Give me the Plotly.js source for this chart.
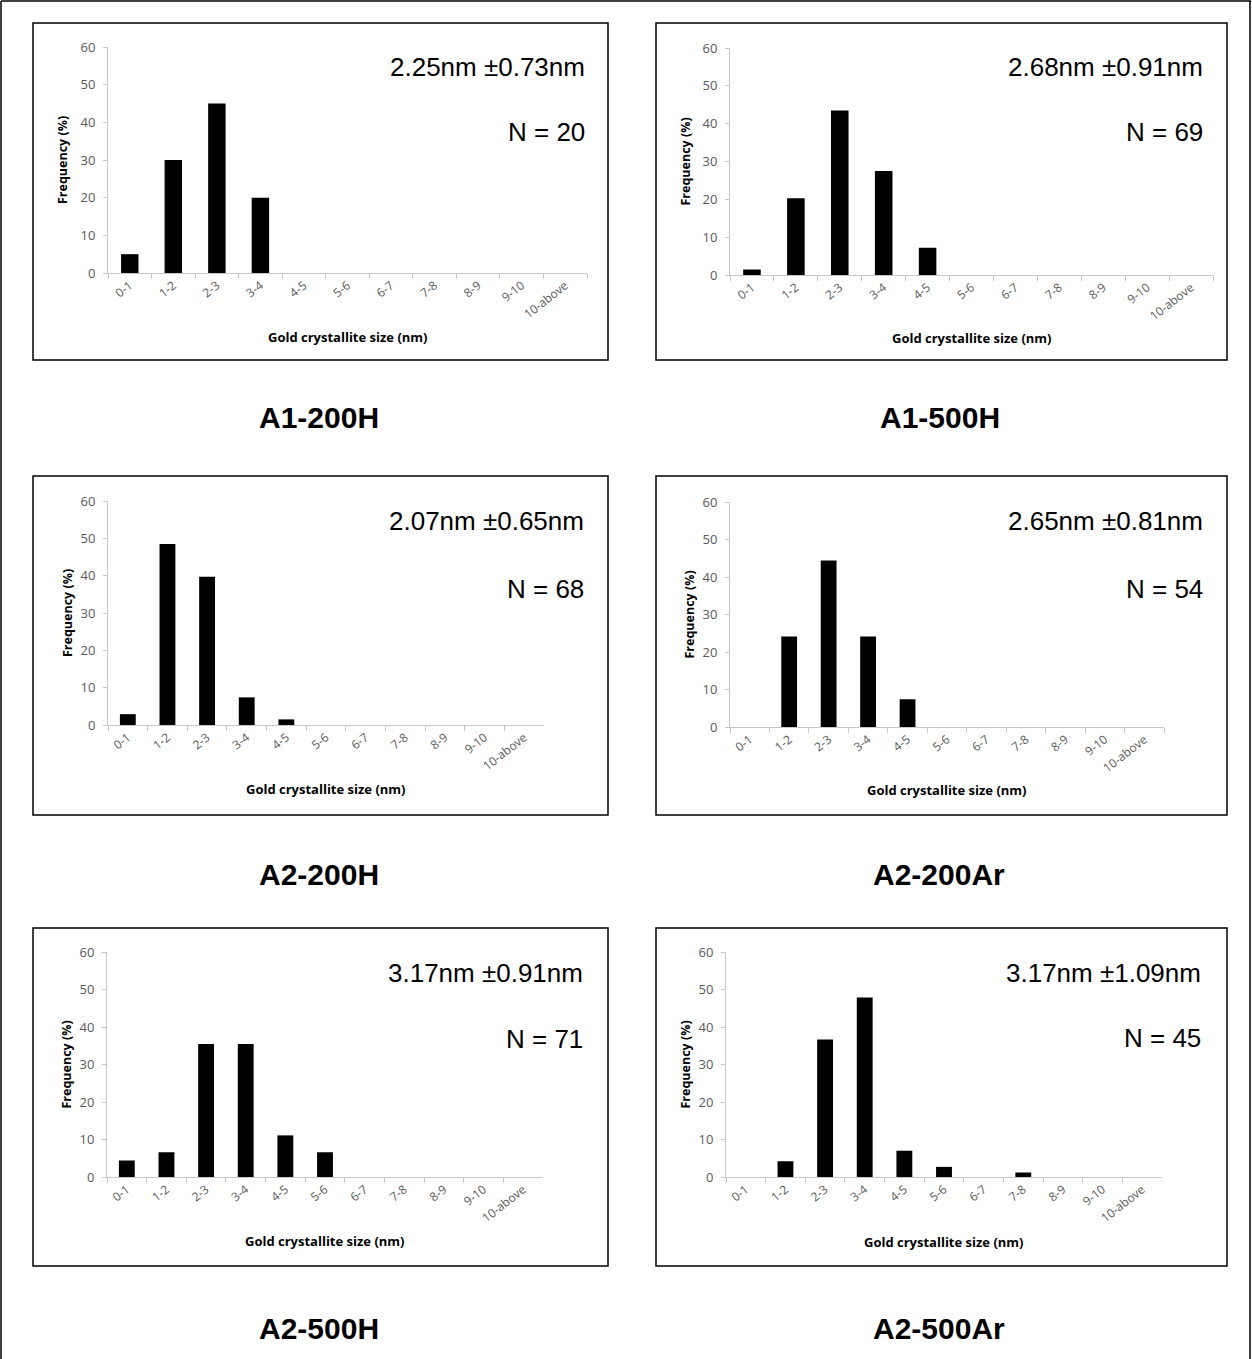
<!DOCTYPE html>
<html>
<head>
<meta charset="utf-8">
<script src="https://cdn.plot.ly/plotly-3.0.1.min.js"></script>
<style>
  html, body { margin: 0; padding: 0; background: #fff; }
  #chart { width: 1252px; height: 1359px; }
</style>
</head>
<body>
<div id="chart"></div>
<script>
// ---- data ----
const categories = ["0-1","1-2","2-3","3-4","4-5","5-6","6-7","7-8","8-9","9-10","10-above"];

const a1_200H  = [5, 30, 45, 20, 0, 0, 0, 0, 0, 0, 0];
const a1_500H  = [1.45, 20.3, 43.5, 27.5, 7.2, 0, 0, 0, 0, 0, 0];
const a2_200H  = [2.9, 48.5, 39.7, 7.4, 1.5, 0, 0, 0, 0, 0, 0];
const a2_200Ar = [0, 24.1, 44.4, 24.1, 7.4, 0, 0, 0, 0, 0, 0];
const a2_500H  = [4.4, 6.6, 35.5, 35.5, 11.1, 6.6, 0, 0, 0, 0, 0];
const a2_500Ar = [0, 4.2, 36.7, 47.9, 7.0, 2.7, 0, 1.2, 0, 0, 0];

const panelNames = ["A1-200H", "A1-500H", "A2-200H", "A2-200Ar", "A2-500H", "A2-500Ar"];
const meanTexts  = ["2.25nm ±0.73nm", "2.68nm ±0.91nm", "2.07nm ±0.65nm", "2.65nm ±0.81nm", "3.17nm ±0.91nm", "3.17nm ±1.09nm"];
const countTexts = ["N = 20", "N = 69", "N = 68", "N = 54", "N = 71", "N = 45"];
const seriesList = [a1_200H, a1_500H, a2_200H, a2_200Ar, a2_500H, a2_500Ar];

const yTitle = "Frequency (%)";
const xTitle = "Gold crystallite size (nm)";

// ---- layout geometry (pixels) ----
const W = 1252, H = 1359;
const plotBoxes = [ // [x0, x1, yTop, yBottom] of plot area
  [108, 587, 47, 273],
  [730, 1213, 48, 275],
  [108, 544, 501, 725],
  [730, 1164, 502, 727],
  [107, 543, 952, 1177],
  [726, 1162, 952, 1177]
];
const frames = [ // panel border boxes
  [33, 608, 23, 360],
  [656, 1227, 23, 360],
  [33, 608, 476, 815],
  [656, 1227, 476, 815],
  [33, 608, 928, 1266],
  [656, 1227, 928, 1266]
];
const statPos = [ // right x, y of mean text, y of N text
  [587, 67, 132],
  [1205, 67, 132],
  [586, 521, 589],
  [1205, 521, 589],
  [585, 973, 1039],
  [1203, 973, 1038]
];
const yTitleX = [63, 685, 67, 689, 66, 685];
const xTitleY = [337, 338, 789, 790, 1241, 1242];
const labelPos = [[319, 418], [940, 418], [319, 874], [939, 874], [319, 1328], [939, 1328]];

const px = x => x / W;
const py = y => 1 - y / H;

const gray = '#595959';
const axisGray = '#c8c8c8';
const tickFont = { family: 'Open Sans, sans-serif', size: 12, color: gray };

const traces = [];
const layout = {
  width: W, height: H,
  margin: { l: 0, r: 0, t: 0, b: 0 },
  paper_bgcolor: '#ffffff',
  plot_bgcolor: 'rgba(0,0,0,0)',
  showlegend: false,
  shapes: [],
  annotations: []
};

seriesList.forEach((vals, i) => {
  const n = i + 1;
  const xa = 'x' + (n === 1 ? '' : n);
  const ya = 'y' + (n === 1 ? '' : n);
  traces.push({
    type: 'bar',
    x: categories,
    y: vals,
    xaxis: xa, yaxis: ya,
    width: 0.4,
    marker: { color: '#000000', line: { width: 0 } },
    hoverinfo: 'skip'
  });
  const b = plotBoxes[i];
  layout['xaxis' + (n === 1 ? '' : n)] = {
    domain: [px(b[0]), px(b[1])],
    anchor: ya,
    type: 'category',
    categoryorder: 'array',
    categoryarray: categories,
    range: [-0.5, 10.5],
    tickson: 'boundaries',
    ticks: 'outside', ticklen: 5, tickcolor: axisGray, tickwidth: 1,
    showline: true, linecolor: axisGray, linewidth: 1,
    showgrid: false, zeroline: false,
    tickangle: -38,
    tickfont: tickFont,
    fixedrange: true
  };
  layout['yaxis' + (n === 1 ? '' : n)] = {
    domain: [py(b[3]), py(b[2])],
    anchor: xa,
    range: [0, 60],
    dtick: 10, tick0: 0,
    ticks: 'outside', ticklen: 4, tickcolor: axisGray, tickwidth: 1,
    showline: true, linecolor: axisGray, linewidth: 1,
    showgrid: false, zeroline: false,
    tickfont: { family: 'Open Sans, sans-serif', size: 13, color: gray },
    ticklabelstandoff: 5,
    fixedrange: true
  };

  // panel frame
  const f = frames[i];
  layout.shapes.push({
    type: 'rect', xref: 'paper', yref: 'paper',
    x0: px(f[0]), x1: px(f[1]), y0: py(f[3]), y1: py(f[2]),
    line: { color: '#000000', width: 1.5 }
  });

  // axis titles
  layout.annotations.push({
    xref: 'paper', yref: 'paper',
    x: px(yTitleX[i]), y: py((b[2] + b[3]) / 2),
    text: '<b>' + yTitle + '</b>', textangle: -90, showarrow: false,
    xanchor: 'center', yanchor: 'middle',
    font: { family: 'Open Sans, sans-serif', size: 12.5, color: '#000' }
  });
  layout.annotations.push({
    xref: 'paper', yref: 'paper',
    x: px((b[0] + b[1]) / 2), y: py(xTitleY[i]),
    text: '<b>' + xTitle + '</b>', showarrow: false,
    xanchor: 'center', yanchor: 'middle',
    font: { family: 'Open Sans, sans-serif', size: 13, color: '#000' }
  });

  // stats text
  const s = statPos[i];
  layout.annotations.push({
    xref: 'paper', yref: 'paper', x: px(s[0]), y: py(s[1]),
    text: meanTexts[i], showarrow: false, xanchor: 'right', yanchor: 'middle',
    font: { family: 'Liberation Sans, Arial, sans-serif', size: 26, color: '#000' }
  });
  layout.annotations.push({
    xref: 'paper', yref: 'paper', x: px(s[0]), y: py(s[2]),
    text: countTexts[i], showarrow: false, xanchor: 'right', yanchor: 'middle',
    font: { family: 'Liberation Sans, Arial, sans-serif', size: 26, color: '#000' }
  });

  // panel label
  const lp = labelPos[i];
  layout.annotations.push({
    xref: 'paper', yref: 'paper', x: px(lp[0]), y: py(lp[1]),
    text: '<b>' + panelNames[i] + '</b>', showarrow: false,
    xanchor: 'center', yanchor: 'middle',
    font: { family: 'Liberation Sans, Arial, sans-serif', size: 30, color: '#000' }
  });
});

// outer border (top, left, right)
layout.shapes.push(
  { type: 'line', xref: 'paper', yref: 'paper', x0: px(1), x1: px(1251), y0: py(1), y1: py(1), line: { color: '#000', width: 1.5 } },
  { type: 'line', xref: 'paper', yref: 'paper', x0: px(1), x1: px(1), y0: py(1), y1: py(1359), line: { color: '#000', width: 1.5 } },
  { type: 'line', xref: 'paper', yref: 'paper', x0: px(1250), x1: px(1250), y0: py(1), y1: py(1359), line: { color: '#000', width: 1.5 } }
);

Plotly.newPlot('chart', traces, layout, { displayModeBar: false, staticPlot: true });
</script>
</body>
</html>
